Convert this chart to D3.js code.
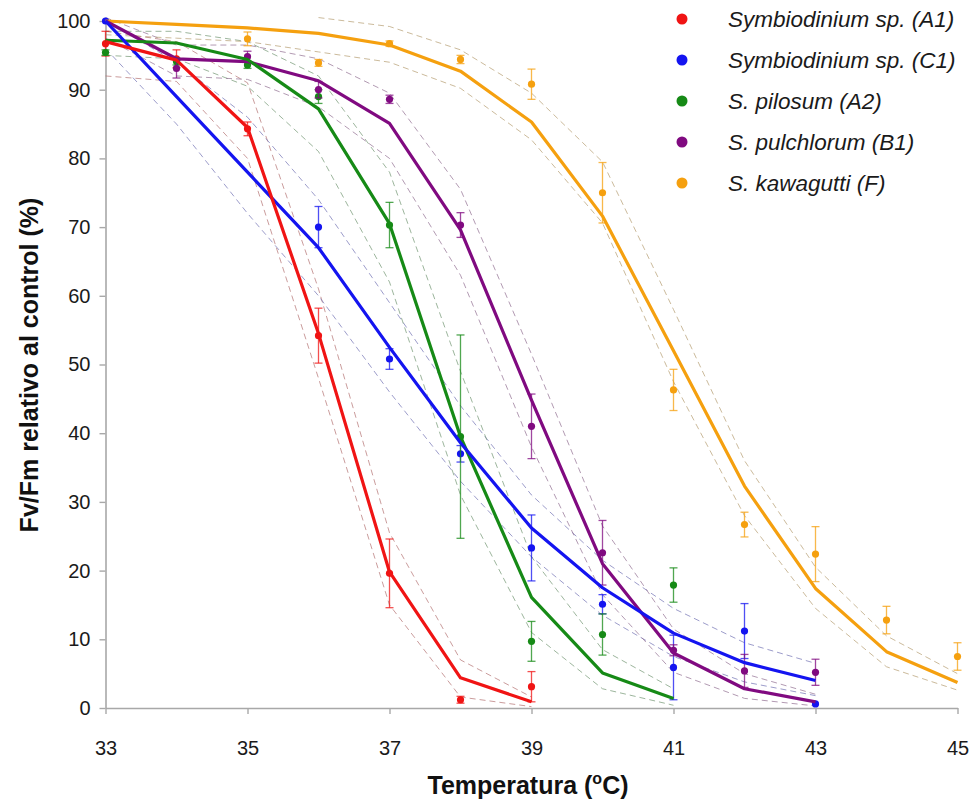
<!DOCTYPE html>
<html>
<head>
<meta charset="utf-8">
<script src="https://cdn.jsdelivr.net/npm/d3@7/dist/d3.min.js"></script>
<style>
  body { margin: 0; background: #fff; }
  svg { display: block; }
</style>
</head>
<body>
<svg width="972" height="805"></svg>
<script>
// temperatures (x) and tick labels
const temps = [33, 34, 35, 36, 37, 38, 39, 40, 41, 42, 43, 44, 45];
const xTicks = [33, 35, 37, 39, 41, 43, 45];
const yTicks = [0, 10, 20, 30, 40, 50, 60, 70, 80, 90, 100];
const names = ["Symbiodinium sp. (A1)", "Symbiodinium sp. (C1)", "S. pilosum (A2)", "S. pulchlorum (B1)", "S. kawagutti (F)"];

// measured means and errors (aligned with temps, null = no point)
const meanA1 = [96.7, 94.5, 84.3, 54.2, 19.6, 1.2, 3.1];
const errA1 = [1.8, 1.3, 1.0, 4.0, 5.0, 0.5, 2.2];
const meanC1 = [100, null, null, 70, 50.8, 37, 23.3, 15.1, 5.9, 11.2, 0.6];
const errC1 = [0, null, null, 3, 1.5, 1.2, 4.8, 1.4, 4.7, 4, 0.3];
const meanA2 = [95.4, 94.1, 93.6, 89.0, 70.3, 39.5, 9.7, 10.7, 17.9];
const errA2 = [0.4, 0.5, 0.5, 1.0, 3.3, 14.8, 2.9, 3.0, 2.5];
const meanB1 = [null, 93.1, 94.8, 90.0, 88.6, 70.3, 41.0, 22.6, 8.4, 5.4, 5.2];
const errB1 = [null, 1.4, 0.8, 1.2, 0.6, 1.8, 4.7, 4.7, 0.8, 2.4, 1.9];
const meanF = [null, null, 97.4, 93.9, 96.7, 94.4, 90.8, 75.0, 46.3, 26.7, 22.4, 12.8, 7.5];
const errF = [null, null, 1.0, 0.5, 0.4, 0.6, 2.2, 4.4, 3.0, 1.8, 4.0, 2.0, 2.0];

// fitted curves
const fitA1 = [97, 94.3, 84.5, 54.5, 19.8, 4.4, 0.9];
const fitC1 = [100, 89, 78, 67, 52.5, 38.6, 26.2, 17.5, 10.9, 6.6, 4.0];
const fitA2 = [97.2, 96.8, 94.4, 87.2, 70.5, 39.5, 16.1, 5.1, 1.4];
const fitB1 = [100, 94.5, 94.1, 91.3, 85.1, 69.6, 44.8, 21.0, 8.0, 2.8, 0.9];
const fitF = [100, 99.5, 99, 98.2, 96.5, 92.7, 85.3, 71.6, 52, 32.3, 17.4, 8.2, 3.7];

// confidence bands (upper / lower)
const hiA1 = [98.5, 97, 91, 61, 25.5, 7, 1.6];
const loA1 = [92, 91.2, 80, 48, 15, 1.6, 0.2];
const hiC1 = [100, 94, 86, 74, 59, 44, 31, 21.5, 14.5, 9.5, 6.5];
const loC1 = [96, 85, 72, 60, 46, 33, 22, 13.5, 7.5, 3.8, 1.8];
const hiA2 = [98.5, 98.5, 97, 92, 78, 49, 22, 8.5, 2.8];
const loA2 = [95, 94.5, 90.5, 81, 62, 31, 11, 2.8, 0.4];
const hiB1 = [100.5, 96.5, 96.5, 94.5, 89.5, 75.5, 51.5, 26.5, 11.5, 5, 2];
const loB1 = [97.5, 92, 91.5, 87.5, 80, 63, 38, 16.5, 5.2, 1.4, 0.3];
const hiF = [null, null, null, 100.5, 99.2, 95.8, 89.5, 79.5, 58, 36, 20.5, 10.5, 5];
const loF = [98, 97.5, 97, 95.5, 94, 90.2, 82.7, 70.6, 47.5, 28, 14.5, 6, 2.6];

const colors = ["#f01414", "#1414f0", "#168a16", "#800a80", "#f5a00f"];

const series = [
  {mean: meanA1, err: errA1, fit: fitA1, hi: hiA1, lo: loA1},
  {mean: meanC1, err: errC1, fit: fitC1, hi: hiC1, lo: loC1},
  {mean: meanA2, err: errA2, fit: fitA2, hi: hiA2, lo: loA2},
  {mean: meanB1, err: errB1, fit: fitB1, hi: hiB1, lo: loB1},
  {mean: meanF, err: errF, fit: fitF, hi: hiF, lo: loF}
];

let svg = d3.select("svg");
let x = d3.scaleLinear().domain([33, 45]).range([105.5, 957.5]);
let y = d3.scaleLinear().domain([0, 100]).range([708, 21]);

function pts(arr) {
    return arr.map((v, i) => [temps[i], v]).filter(d => d[1] != null);
}
let line = d3.line().x(d => x(d[0])).y(d => y(d[1]));

// axes
let axisColor = "#a8a8a8";
let gy = svg.append("g")
    .attr("transform", "translate(" + x(33) + ",0)")
    .call(d3.axisLeft(y).tickValues(yTicks).tickSize(6).tickSizeOuter(0).tickPadding(9));
let gx = svg.append("g")
    .attr("transform", "translate(0," + y(0) + ")")
    .call(d3.axisBottom(x).tickValues(xTicks).tickSize(6).tickSizeOuter(0).tickPadding(27));
[gx, gy].forEach(g => {
    g.select(".domain").attr("stroke", axisColor).attr("stroke-width", 1.6);
    g.selectAll(".tick line").attr("stroke", axisColor).attr("stroke-width", 1.4);
    g.selectAll(".tick text")
        .attr("fill", "#1a1a1a")
        .style("font-family", "'Liberation Sans Narrow', 'Liberation Sans', Arial, sans-serif")
        .style("font-size", "20px");
});

// confidence bands
series.forEach((s, i) => {
    let c = d3.interpolateRgb(colors[i], "#9a9a9a")(0.7);
    [s.hi, s.lo].forEach(arr => {
        svg.append("path")
            .attr("d", line(pts(arr)))
            .attr("fill", "none")
            .attr("stroke", c)
            .attr("stroke-opacity", 0.7)
            .attr("stroke-width", 1)
            .attr("stroke-dasharray", "6,4");
    });
});

// error bars and points
series.forEach((s, i) => {
    let c = colors[i];
    let g = svg.append("g");
    let data = s.mean.map((v, k) => ({t: temps[k], v: v, e: s.err[k]})).filter(d => d.v != null);
    data.forEach(d => {
        if (d.e > 0.3) {
            g.append("line")
                .attr("x1", x(d.t)).attr("x2", x(d.t))
                .attr("y1", y(d.v + d.e)).attr("y2", y(d.v - d.e))
                .attr("stroke", c).attr("stroke-opacity", 0.75).attr("stroke-width", 1.3);
            [d.v + d.e, d.v - d.e].forEach(v => {
                g.append("line")
                    .attr("x1", x(d.t) - 4).attr("x2", x(d.t) + 4)
                    .attr("y1", y(v)).attr("y2", y(v))
                    .attr("stroke", c).attr("stroke-opacity", 0.75).attr("stroke-width", 1.3);
            });
        }
    });
    g.selectAll("circle").data(data).enter().append("circle")
        .attr("cx", d => x(d.t))
        .attr("cy", d => y(d.v))
        .attr("r", 3.6)
        .attr("fill", c);
});

// fitted lines
[4, 3, 2, 1, 0].forEach(i => {
    svg.append("path")
        .attr("d", line(pts(series[i].fit)))
        .attr("fill", "none")
        .attr("stroke", colors[i])
        .attr("stroke-width", 3.2)
        .attr("stroke-linejoin", "round");
});

// legend
let lg = svg.append("g").attr("transform", "translate(682,19)");
names.forEach((n, i) => {
    lg.append("circle").attr("cx", 0).attr("cy", i * 41).attr("r", 5.5).attr("fill", colors[i]);
    lg.append("text")
        .attr("x", 46).attr("y", i * 41 + 8)
        .attr("fill", "#1a1a1a")
        .style("font-family", "'Liberation Sans', Arial, sans-serif")
        .style("font-style", "italic")
        .style("font-size", "22.5px")
        .text(n);
});

// axis titles
svg.append("text")
    .attr("transform", "translate(38,365) rotate(-90)")
    .attr("text-anchor", "middle")
    .attr("fill", "#111")
    .style("font-family", "'Liberation Sans', Arial, sans-serif")
    .style("font-weight", "bold")
    .style("font-size", "25px")
    .text("Fv/Fm relativo al control (%)");

let xt = svg.append("text")
    .attr("x", 528).attr("y", 794)
    .attr("text-anchor", "middle")
    .attr("fill", "#111")
    .style("font-family", "'Liberation Sans', Arial, sans-serif")
    .style("font-weight", "bold")
    .style("font-size", "25px");
xt.append("tspan").text("Temperatura (");
xt.append("tspan").attr("dy", -10).style("font-size", "16px").text("o");
xt.append("tspan").attr("dy", 10).text("C)");
</script>
</body>
</html>
